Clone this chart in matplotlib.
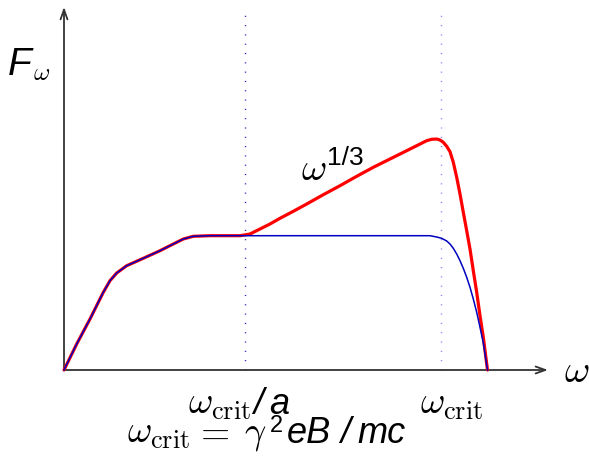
import matplotlib
matplotlib.use("Agg")
import matplotlib.pyplot as plt

# shared low-frequency part (both spectra)
low_w = [0.0, 0.127, 0.26, 0.393, 0.46, 0.527, 0.627, 0.793, 0.96, 1.093,
         1.193, 1.293, 1.46, 1.76]
low_F = [0.0, 0.26, 0.51, 0.777, 0.893, 0.97, 1.043, 1.117, 1.193, 1.26,
         1.31, 1.337, 1.343, 1.343]

# blue spectrum high-frequency part
blue_w = [3.36, 3.66, 3.727, 3.777, 3.827, 3.86, 3.893, 3.927, 3.96, 3.993,
          4.027, 4.06, 4.093, 4.127, 4.16, 4.193, 4.235]
blue_F = [1.343, 1.343, 1.33, 1.317, 1.29, 1.26, 1.217, 1.16, 1.093, 1.017,
          0.927, 0.827, 0.71, 0.577, 0.427, 0.27, 0.0]

# red spectrum high-frequency part (omega^{1/3} rise and cutoff)
red_w = [1.86, 1.96, 2.06, 2.16, 2.293, 2.427, 2.593, 2.76, 2.927, 3.093,
         3.26, 3.427, 3.527, 3.627, 3.677, 3.727, 3.76, 3.793, 3.827, 3.86,
         3.893, 3.927, 3.96, 3.993, 4.027, 4.06, 4.093, 4.127, 4.16, 4.193, 4.235]
red_F = [1.36, 1.41, 1.46, 1.517, 1.587, 1.66, 1.753, 1.843, 1.937, 2.027,
         2.11, 2.193, 2.243, 2.293, 2.307, 2.31, 2.30, 2.277, 2.237, 2.183,
         2.077, 1.927, 1.76, 1.577, 1.393, 1.21, 0.993, 0.777, 0.543, 0.327, 0.0]

w_crit_a = 1.81
w_crit = 3.77
x_max = 4.84
y_max = 3.63
vline_top = 3.59

fig = plt.figure(figsize=(5.89, 4.64), dpi=100)
ax = fig.add_axes([0, 0, 1, 1])
ax.set_xlim(-0.64, 5.25)
ax.set_ylim(-0.93, 3.71)
ax.axis('off')

# axes with arrows
arrow = dict(arrowstyle='->,head_length=0.7,head_width=0.25', color='#333333', lw=1.3,
             shrinkA=0, shrinkB=0)
ax.annotate('', xy=(x_max, 0), xytext=(0, 0), arrowprops=arrow)
ax.annotate('', xy=(0, y_max), xytext=(0, 0), arrowprops=arrow)

# dotted verticals
ax.plot([w_crit_a, w_crit_a], [0, vline_top], color='#2020c0', lw=1.0,
        linestyle=(0, (0.8, 5.9)))
ax.plot([w_crit, w_crit], [0, vline_top], color='#8080ff', lw=1.0,
        linestyle=(0, (0.8, 5.9)))

# curves
ax.plot(low_w + red_w, low_F + red_F, color='#ff0000', lw=2.3, zorder=3,
        solid_joinstyle='round', solid_capstyle='round')
ax.plot(low_w + blue_w, low_F + blue_F, color='#0000c0', lw=1.1, zorder=4,
        solid_joinstyle='round')

# text helpers
def cm(x, y, s, size):
    ax.text(x, y, s, fontsize=size, math_fontfamily='cm', ha='left', va='baseline')

def sans(x, y, s, size, style='italic'):
    ax.text(x, y, s, fontsize=size, family='Liberation Sans', style=style,
            ha='left', va='baseline')

# F_omega label
sans(-0.56, 2.96, 'F', 28)
cm(-0.31, 2.91, r'$\omega$', 18)

# omega axis label
cm(5.00, -0.11, r'$\omega$', 28)

# omega^{1/3}
cm(2.37, 1.91, r'$\omega$', 28)
sans(2.63, 2.06, '1/3', 19, style='normal')

# omega_crit / a
cm(1.24, -0.43, r'$\omega_{\mathrm{crit}}$', 27)
sans(1.89, -0.43, '/', 26)
sans(2.05, -0.43, 'a', 26)

# omega_crit
cm(3.56, -0.43, r'$\omega_{\mathrm{crit}}$', 27)

# omega_crit = gamma^2 eB/mc
cm(0.63, -0.72, r'$\omega_{\mathrm{crit}}$', 27)
cm(1.30, -0.72, r'$=$', 27)
cm(1.80, -0.72, r'$\gamma$', 27)
sans(2.06, -0.61, '2', 17, style='normal')
sans(2.23, -0.72, 'eB', 26)
sans(2.76, -0.72, '/', 26)
sans(2.93, -0.72, 'mc', 26)

fig.savefig('out.png', dpi=100)
